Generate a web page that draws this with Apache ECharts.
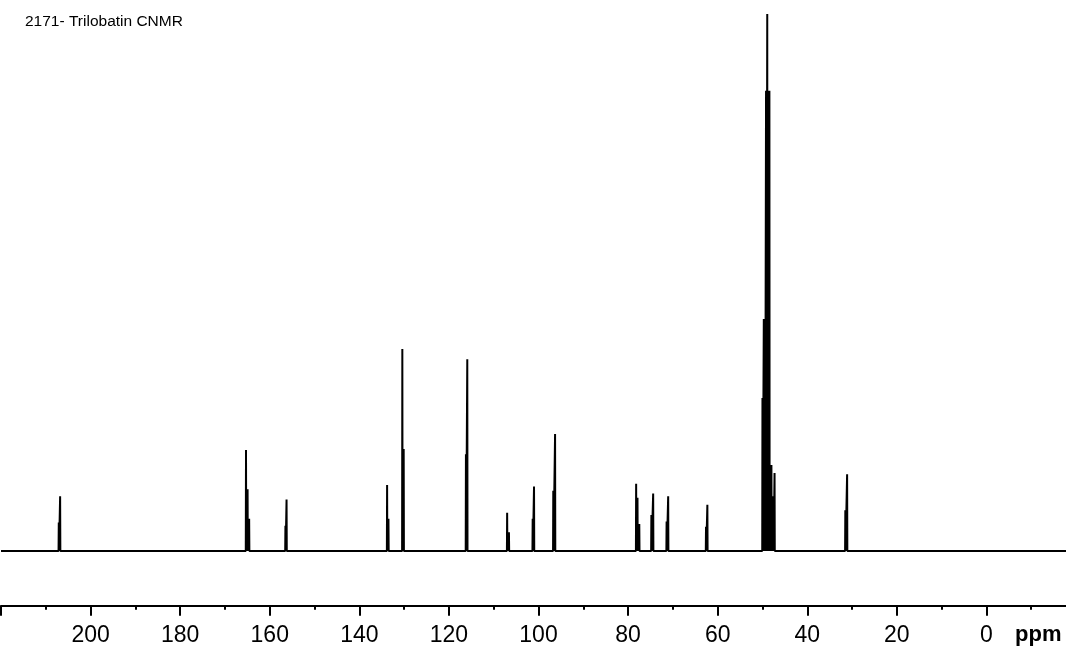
<!DOCTYPE html>
<html>
<head>
<meta charset="utf-8">
<script src="https://cdn.jsdelivr.net/npm/echarts@6/dist/echarts.min.js"></script>
<style>
html,body{margin:0;padding:0;background:#fff;}
#chart{width:1066px;height:653px;}
</style>
</head>
<body>
<div id="chart"></div>
<script>
// Chart texts
var chartTitle = "2171- Trilobatin CNMR";
var axisUnit = "ppm";

// Peak positions (ppm) and heights (% of the tallest line)
var peakPpm = [
  207.1, 206.8,
  165.3, 164.95, 164.6,
  156.5, 156.25,
  133.8, 133.5,
  130.4, 130.1,
  116.2, 115.9,
  107.0, 106.6,
  101.3, 101.0,
  96.7, 96.3,
  78.2, 77.9, 77.5,
  74.8, 74.4,
  71.4, 71.05,
  62.6, 62.3,
  31.5, 31.1
];
var peakHeight = [
  5.3, 10.2,
  18.8, 11.5, 6.0,
  4.7, 9.6,
  12.3, 6.0,
  37.6, 19.0,
  18.0, 35.7,
  7.1, 3.5,
  6.0, 12.0,
  11.2, 21.8,
  12.5, 9.9, 5.0,
  6.7, 10.7,
  5.5, 10.2,
  4.5, 8.6,
  7.6, 14.3
];
// Solvent (CD3OD) multiplet and the overlapping CH2 line
var solventPpm = [50.0, 49.7, 49.45, 49.2, 48.93, 48.7, 48.45, 48.0, 47.55, 47.3];
var solventHeight = [28.5, 43.2, 43.2, 85.7, 100, 85.7, 85.7, 16.0, 10.2, 14.5];

// x-axis range (ppm, drawn high to low)
var ppmMin = -20, ppmMax = 220, ppmStep = 20;

// build the spectrum trace from the peak lists
var peaks = [];
peakPpm.forEach(function(p, i){ peaks.push([p, peakHeight[i]]); });
solventPpm.forEach(function(p, i){ peaks.push([p, solventHeight[i]]); });
peaks.sort(function(a, b){ return b[0] - a[0]; });
var halfWidth = 0.05;
var trace = [[ppmMax, 0]];
peaks.forEach(function(pk){
  trace.push([pk[0] + halfWidth, 0]);
  trace.push([pk[0], pk[1]]);
  trace.push([pk[0] - halfWidth, 0]);
});
trace.push([ppmMin, 0]);

var chart = echarts.init(document.getElementById('chart'), null, {renderer: 'canvas'});
chart.setOption({
  animation: false,
  backgroundColor: '#ffffff',
  grid: {left: 1, right: -10, top: 14, bottom: 47.3, containLabel: false, outerBoundsMode: 'none'},
  graphic: [
    {type: 'text', left: 25, top: 14, style: {text: chartTitle, font: '15.5px "Liberation Sans", Arial, sans-serif', fill: '#000'}},
    {type: 'text', left: 1015, top: 624, style: {text: axisUnit, font: 'bold 22px "Liberation Sans", Arial, sans-serif', fill: '#000'}}
  ],
  xAxis: {
    type: 'value',
    inverse: true,
    min: ppmMin,
    max: ppmMax,
    interval: ppmStep,
    position: 'bottom',
    axisLine: {show: true, onZero: false, lineStyle: {color: '#000', width: 2}},
    axisTick: {show: true, inside: false, length: 10, lineStyle: {color: '#000', width: 2}},
    minorTick: {show: true, splitNumber: 2, length: 4, lineStyle: {color: '#000', width: 2}},
    splitLine: {show: false},
    minorSplitLine: {show: false},
    axisLabel: {
      show: true, margin: 18, showMinLabel: false, showMaxLabel: false,
      color: '#000', fontSize: 23, fontFamily: '"Liberation Sans", Arial, sans-serif'
    }
  },
  yAxis: {
    type: 'value',
    min: -10.19,
    max: 100,
    show: false
  },
  series: [{
    type: 'line',
    data: trace,
    showSymbol: false,
    symbol: 'none',
    sampling: null,
    clip: true,
    lineStyle: {color: '#000', width: 2, join: 'bevel'}
  }]
});
</script>
</body>
</html>
